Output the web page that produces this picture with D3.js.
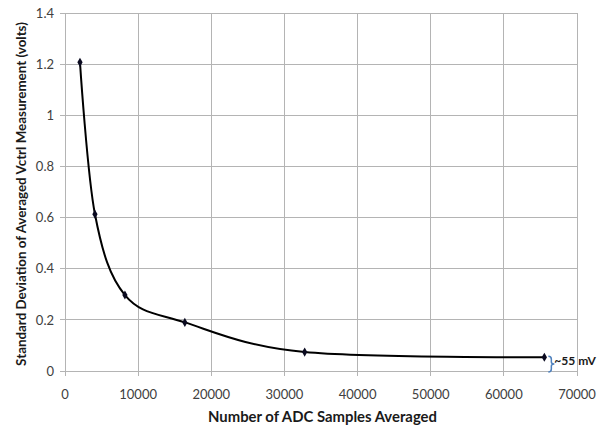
<!DOCTYPE html>
<html><head><meta charset="utf-8">
<script src="https://cdn.jsdelivr.net/npm/d3@7"></script>
<style>body{margin:0;background:#fff}svg{display:block}</style>
</head><body>
<script>
const samples = [2048, 4096, 8192, 16384, 32768, 65536];
const stdDev = [1.207, 0.613, 0.297, 0.19, 0.074, 0.054];
const xTicks = [0, 10000, 20000, 30000, 40000, 50000, 60000, 70000];
const yTicks = [0, 0.2, 0.4, 0.6, 0.8, 1, 1.2, 1.4];
const xTitle = "Number of ADC Samples Averaged";
const yTitle = "Standard Deviation of Averaged Vctrl Measurement (volts)";
const note = "~55 mV";

const W = 597, H = 429;
const m = {l: 65, r: 20, t: 13, b: 58};
const svg = d3.select("body").append("svg").attr("width", W).attr("height", H);
const x = d3.scaleLinear().domain([0, 70000]).range([m.l, W - m.r]);
const y = d3.scaleLinear().domain([0, 1.4]).range([H - m.b, m.t]);
const font = "Lato, 'Open Sans', sans-serif";

function fit(sel, target) {
  const n = sel.node();
  const fs = parseFloat(sel.attr("font-size"));
  const len = n.getComputedTextLength();
  if (len > 0) sel.attr("font-size", (fs * target / len).toFixed(2));
  return sel;
}

// grid
svg.append("g").selectAll("line").data(yTicks).join("line")
  .attr("x1", m.l - 5).attr("x2", x(70000)).attr("y1", d => y(d)).attr("y2", d => y(d))
  .attr("stroke", "#b4b4b4").attr("stroke-width", 1).attr("shape-rendering", "crispEdges");
svg.append("g").selectAll("line").data(xTicks).join("line")
  .attr("x1", d => x(d)).attr("x2", d => x(d)).attr("y1", y(1.4)).attr("y2", y(0) + 5)
  .attr("stroke", "#b4b4b4").attr("stroke-width", 1).attr("shape-rendering", "crispEdges");

// tick labels
svg.append("g").selectAll("text").data(yTicks).join("text")
  .attr("x", m.l - 11).attr("y", d => y(d)).attr("dy", "0.36em")
  .attr("text-anchor", "end").attr("font-family", font).attr("font-size", 13).attr("fill", "#404040")
  .text(d => d3.format("~g")(d));
svg.append("g").selectAll("text").data(xTicks).join("text")
  .attr("x", d => x(d)).attr("y", y(0) + 28)
  .attr("text-anchor", "middle").attr("font-family", font).attr("font-size", 13).attr("fill", "#404040")
  .text(d => d);

// titles
fit(svg.append("text").attr("x", 322.5).attr("y", 422)
  .attr("text-anchor", "middle").attr("font-family", font).attr("font-weight", "bold")
  .attr("font-size", 14).attr("fill", "#1a1a1a").text(xTitle), 229);
fit(svg.append("text").attr("transform", `translate(26,194) rotate(-90)`)
  .attr("text-anchor", "middle").attr("font-family", font).attr("font-weight", "bold")
  .attr("font-size", 13).attr("fill", "#1a1a1a").text(yTitle), 344);

// curve
const pts = samples.map((s, i) => [s, stdDev[i]]);
const line = d3.line().x(d => x(d[0])).y(d => y(d[1])).curve(d3.curveCardinal.tension(0));
svg.append("path").attr("d", line(pts)).attr("fill", "none").attr("stroke", "#000").attr("stroke-width", 2);

// markers
const sym = d3.symbol().type(d3.symbolDiamond).size(24);
svg.append("g").selectAll("path").data(pts).join("path")
  .attr("transform", d => `translate(${x(d[0])},${y(d[1])})`)
  .attr("d", sym).attr("fill", "#0a0a20");

// annotation brace
const bx = x(samples[5]) + 4, by0 = y(stdDev[5]) - 1, by1 = y(0) + 1, bm = (by0 + by1) / 2;
svg.append("path")
  .attr("d", `M${bx},${by0} Q${bx + 3},${by0} ${bx + 3},${by0 + 3} L${bx + 3},${bm - 2} Q${bx + 3},${bm} ${bx + 6},${bm} Q${bx + 3},${bm} ${bx + 3},${bm + 2} L${bx + 3},${by1 - 3} Q${bx + 3},${by1} ${bx},${by1}`)
  .attr("fill", "none").attr("stroke", "#4f81bd").attr("stroke-width", 1.5);
fit(svg.append("text").attr("x", bx + 6).attr("y", bm + 1)
  .attr("font-family", font).attr("font-weight", "bold").attr("font-size", 13).attr("fill", "#1a1a1a")
  .text(note), W - (bx + 6) - 1);
</script>
</body></html>
